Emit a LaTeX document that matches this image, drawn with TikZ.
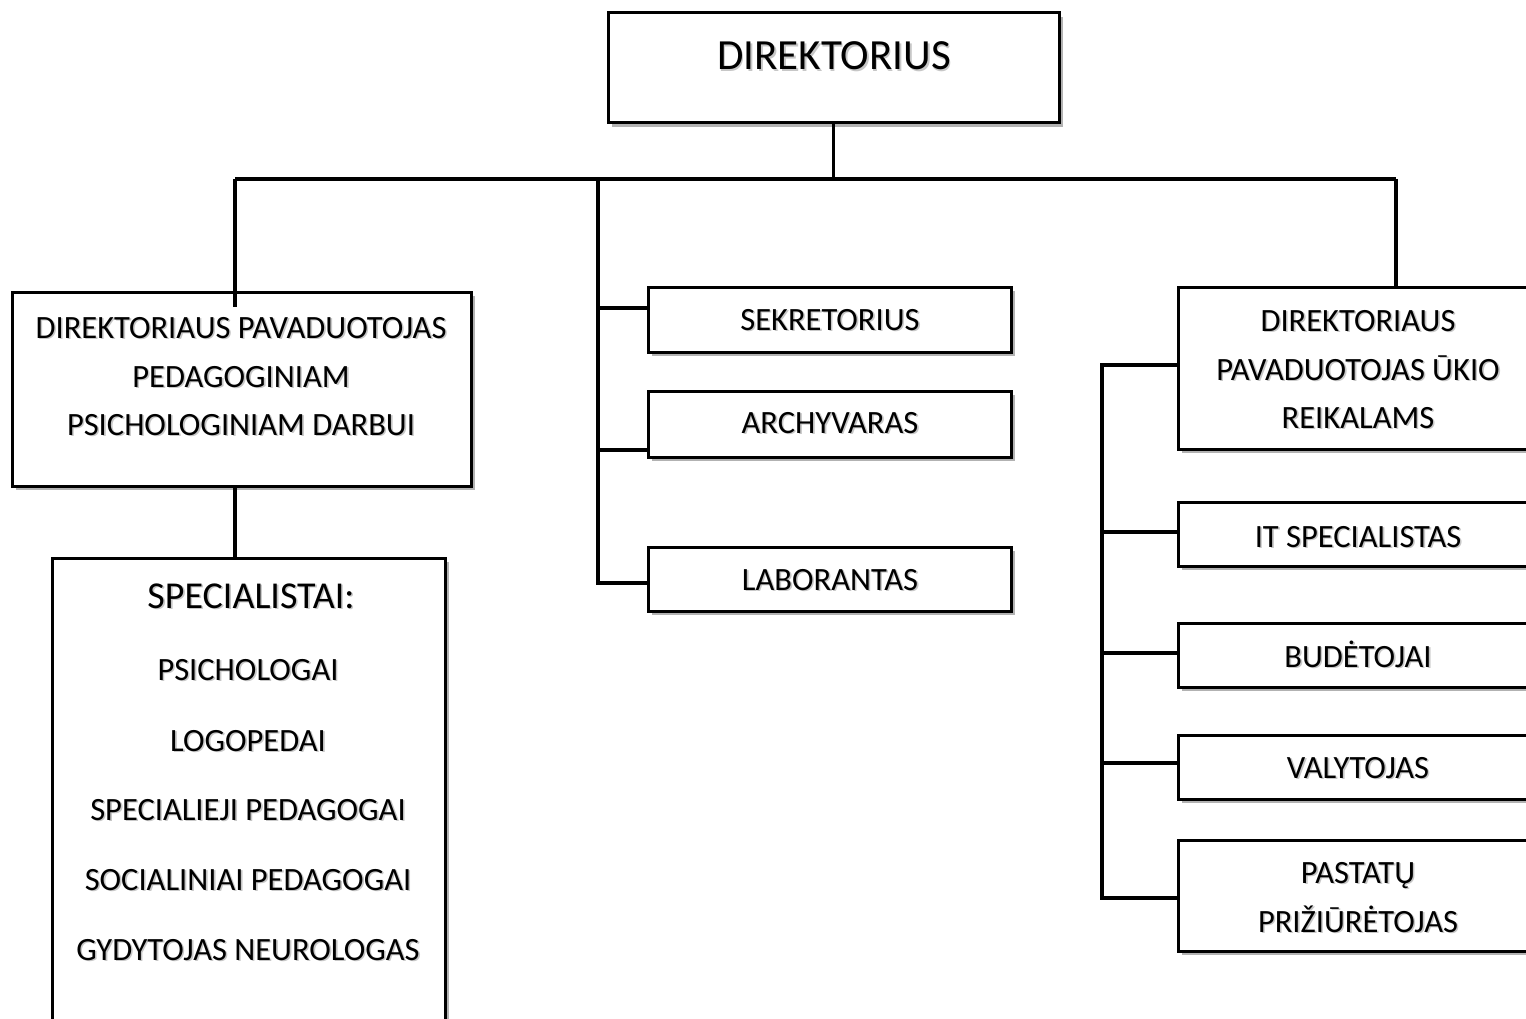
\documentclass[tikz,border=0pt]{standalone}
\usepackage{fontspec}
\setmainfont{Carlito}
\usetikzlibrary{shadows}
\newcommand\shd[1]{\rlap{\hspace{1.6pt}\raisebox{-1.6pt}{\textcolor{black!22}{#1}}}#1}
\begin{document}
\begin{tikzpicture}[x=1pt,y=-1pt,
  box/.style={draw,line width=3pt,fill=white,inner sep=0pt,
    drop shadow={shadow xshift=4pt,shadow yshift=-4pt,opacity=0.3,fill=black}},
  conn/.style={line width=3.8pt},
  txt/.style={font=\fontsize{32.5}{38}\selectfont,anchor=base,inner sep=0pt},
  bigtxt/.style={font=\fontsize{43}{50}\selectfont,anchor=base,inner sep=0pt},
  midtxt/.style={font=\fontsize{38}{44}\selectfont,anchor=base,inner sep=0pt}]
\useasboundingbox (0,0) rectangle (1526,1019);
\clip (0,0) rectangle (1526,1019);
\fill[white] (0,0) rectangle (1526,1019);

% boxes
\node[box,minimum width=451pt,minimum height=110pt] (dir) at (833.5,68) {};
\node[box,minimum width=459pt,minimum height=194pt] (ped) at (241.5,389) {};
\node[box,minimum width=393pt,minimum height=482pt] (spec) at (248.5,799) {};
\node[box,minimum width=363pt,minimum height=65pt] (sek) at (829.5,319.5) {};
\node[box,minimum width=363pt,minimum height=66pt] (arch) at (829.5,424) {};
\node[box,minimum width=363pt,minimum height=64pt] (lab) at (829.5,579) {};
\node[box,minimum width=367pt,minimum height=162pt] (uk) at (1361.5,368) {};
\node[box,minimum width=367pt,minimum height=64pt] (it) at (1361.5,534) {};
\node[box,minimum width=367pt,minimum height=64pt] (bud) at (1361.5,655) {};
\node[box,minimum width=367pt,minimum height=64pt] (val) at (1361.5,767) {};
\node[box,minimum width=367pt,minimum height=111pt] (past) at (1361.5,895.5) {};

% texts
\node[bigtxt] (tdir) at (834,70) {\shd{DIREKTORIUS}};
\node[txt] (tped1) at (241,338) {\shd{DIREKTORIAUS PAVADUOTOJAS}};
\node[txt] (tped2) at (241,387) {\shd{PEDAGOGINIAM}};
\node[txt] (tped3) at (241,435) {\shd{PSICHOLOGINIAM DARBUI}};
\node[midtxt] (tsp0) at (251,608) {\shd{SPECIALISTAI:}};
\node[txt] (tsp1) at (248,680) {\shd{PSICHOLOGAI}};
\node[txt] (tsp2) at (248,751) {\shd{LOGOPEDAI}};
\node[txt] (tsp3) at (248,820) {\shd{SPECIALIEJI PEDAGOGAI}};
\node[txt] (tsp4) at (248,890) {\shd{SOCIALINIAI PEDAGOGAI}};
\node[txt] (tsp5) at (248,960) {\shd{GYDYTOJAS NEUROLOGAS}};
\node[txt] (tsek) at (830,330) {\shd{SEKRETORIUS}};
\node[txt] (tarch) at (830,433) {\shd{ARCHYVARAS}};
\node[txt] (tlab) at (830,590) {\shd{LABORANTAS}};
\node[txt] (tuk1) at (1358,331) {\shd{DIREKTORIAUS}};
\node[txt] (tuk2) at (1358,380) {\shd{PAVADUOTOJAS ŪKIO}};
\node[txt] (tuk3) at (1358,428) {\shd{REIKALAMS}};
\node[txt] (tit) at (1358,547) {\shd{IT SPECIALISTAS}};
\node[txt] (tbud) at (1358,667) {\shd{BUDĖTOJAI}};
\node[txt] (tval) at (1358,778) {\shd{VALYTOJAS}};
\node[txt] (tpast1) at (1358,883) {\shd{PASTATŲ}};
\node[txt] (tpast2) at (1358,932) {\shd{PRIŽIŪRĖTOJAS}};

% connectors
\coordinate (busL) at (235,179);
\coordinate (busR) at (1396,179);
\coordinate (pedin) at (235,307);
\draw[conn] (busL) -- (busR);
\draw[conn] (dir.south) -- (dir.south |- busL);
\draw[conn] (busL) -- (pedin);
\draw[conn] (busR) -- (busR |- uk.north);
\draw[conn] (ped.south -| busL) -- (spec.north -| busL);

\coordinate (mtop) at (598,179);
\coordinate (m1) at (598,308);
\coordinate (m2) at (598,450);
\coordinate (m3) at (598,583);
\draw[conn] (mtop) -- (m3) -- (m3 -| lab.west);
\draw[conn] (m1) -- (m1 -| sek.west);
\draw[conn] (m2) -- (m2 -| arch.west);

\coordinate (r1) at (1102,365);
\coordinate (r2) at (1102,532);
\coordinate (r3) at (1102,653);
\coordinate (r4) at (1102,763);
\coordinate (r5) at (1102,898);
\draw[conn] (r1 -| uk.west) -- (r1) -- (r5) -- (r5 -| past.west);
\draw[conn] (r2) -- (r2 -| it.west);
\draw[conn] (r3) -- (r3 -| bud.west);
\draw[conn] (r4) -- (r4 -| val.west);
\end{tikzpicture}
\end{document}
